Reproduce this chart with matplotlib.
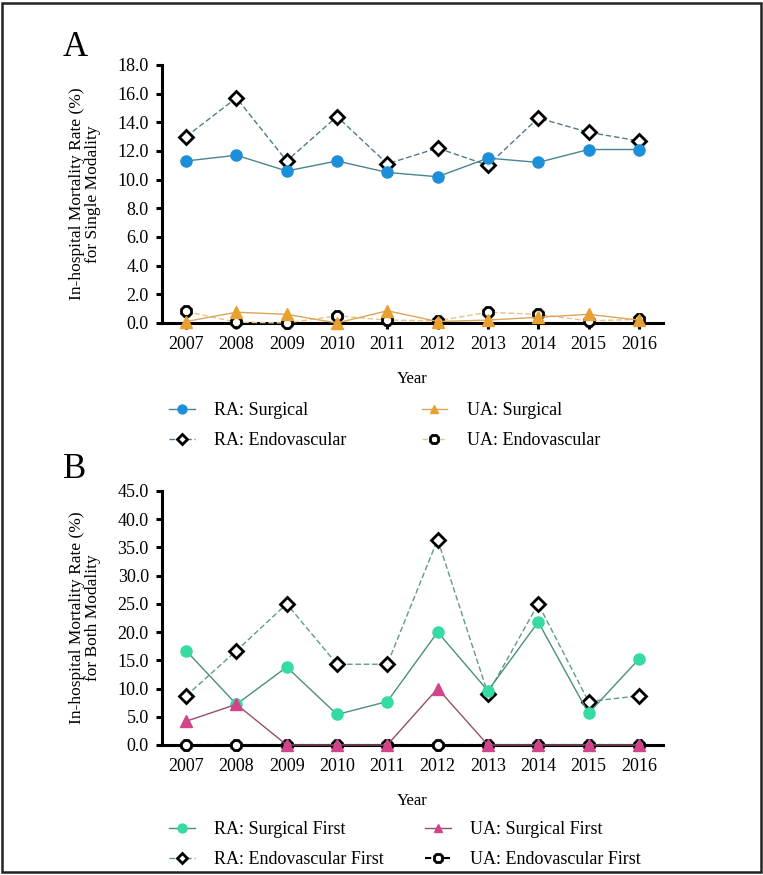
import matplotlib
matplotlib.use("Agg")
import matplotlib.pyplot as plt
from matplotlib.patches import Rectangle

years = [2007, 2008, 2009, 2010, 2011, 2012, 2013, 2014, 2015, 2016]

# Panel A: single modality
ra_surgical = [11.3, 11.7, 10.6, 11.3, 10.5, 10.2, 11.5, 11.2, 12.1, 12.1]
ra_endo = [13.0, 15.7, 11.3, 14.4, 11.1, 12.2, 11.0, 14.3, 13.3, 12.7]
ua_surgical = [0.1, 0.75, 0.6, 0.0, 0.85, 0.1, 0.2, 0.4, 0.6, 0.2]
ua_endo = [0.8, 0.05, 0.0, 0.5, 0.2, 0.15, 0.75, 0.6, 0.15, 0.25]

# Panel B: both modalities
ra_surg_first = [16.7, 7.2, 13.8, 5.4, 7.7, 20.0, 9.6, 21.8, 5.6, 15.2]
ra_endo_first = [8.7, 16.7, 25.0, 14.3, 14.3, 36.4, 9.1, 25.0, 7.7, 8.7]
ua_surg_first = [4.2, 7.2, 0.0, 0.0, 0.0, 10.0, 0.0, 0.0, 0.0, 0.0]
ua_endo_first = [0.0, 0.0, 0.0, 0.0, 0.0, 0.0, 0.0, 0.0, 0.0, 0.0]

plt.rcParams["font.family"] = ["Liberation Serif", "DejaVu Serif"]

fig = plt.figure(figsize=(7.63, 8.75), dpi=100)
fig.patches.append(Rectangle((0.003, 0.004), 0.994, 0.993, transform=fig.transFigure,
                             fill=False, lw=1.8, ec="#222222"))


def style_axes(ax, ymax, ystep, ylabel):
    n = int(round(ymax / ystep)) + 1
    ax.set_xlim(2006.52, 2016.48)
    ax.set_ylim(0, ymax)
    ax.set_xticks(years)
    ax.set_yticks([i * ystep for i in range(n)])
    ax.set_yticklabels([f"{i * ystep:.1f}" for i in range(n)])
    for s in ("top", "right"):
        ax.spines[s].set_visible(False)
    for s in ("left", "bottom"):
        ax.spines[s].set_linewidth(2.2)
    ax.tick_params(axis="both", length=4.5, width=2.2, labelsize=13, pad=5)
    ax.set_xlabel("Year", fontsize=12, labelpad=13)
    ax.set_ylabel(ylabel, fontsize=12.5, labelpad=12, linespacing=1.0)


def add_legend(handles, top_px, colspace):
    fig.legend(handles=handles, ncol=2, frameon=False, fontsize=13,
               loc="upper left", bbox_to_anchor=(153 / 763, 1 - top_px / 875),
               handlelength=1.4, handletextpad=1.1, columnspacing=colspace,
               labelspacing=0.7, markerscale=0.8)


# ---- Panel A
axA = fig.add_axes([0.2123, 0.6309, 0.6566, 0.2949])
h_re, = axA.plot(years, ra_endo, ls=(0, (4, 2)), lw=1, color="#4f7c88", marker="D",
                 ms=7, mfc="white", mec="black", mew=2, clip_on=False, zorder=3,
                 label="RA: Endovascular")
h_ue, = axA.plot(years, ua_endo, ls=(0, (4, 2)), lw=1, color="#e8c488", marker="8",
                 ms=8, mfc="white", mec="black", mew=2, clip_on=False, zorder=3,
                 label="UA: Endovascular")
h_rs, = axA.plot(years, ra_surgical, ls="-", lw=1, color="#4a8394", marker="o",
                 ms=8, mfc="#1d8fd8", mec="#1d8fd8", clip_on=False, zorder=4,
                 label="RA: Surgical")
h_us, = axA.plot(years, ua_surgical, ls="-", lw=1, color="#d9a65a", marker="^",
                 ms=8, mfc="#e8a030", mec="#e8a030", clip_on=False, zorder=4,
                 label="UA: Surgical")
style_axes(axA, 18, 2, "In-hospital Mortality Rate (%)\nfor Single Modality")
fig.text(63 / 763, 1 - 56 / 875, "A", fontsize=25)
add_legend([h_rs, h_re, h_us, h_ue], 386, 4.15)

# ---- Panel B
axB = fig.add_axes([0.2123, 0.1486, 0.6566, 0.2903])
g_re, = axB.plot(years, ra_endo_first, ls=(0, (4, 2)), lw=1, color="#5f9a8c", marker="D",
                 ms=7, mfc="white", mec="black", mew=2, clip_on=False, zorder=3,
                 label="RA: Endovascular First")
g_ue, = axB.plot(years, ua_endo_first, ls=(0, (3, 1.5)), lw=1.5, color="black", marker="8",
                 ms=8, mfc="white", mec="black", mew=2, clip_on=False, zorder=3,
                 label="UA: Endovascular First")
g_rs, = axB.plot(years, ra_surg_first, ls="-", lw=1, color="#4b8f80", marker="o",
                 ms=8, mfc="#35dba0", mec="#35dba0", clip_on=False, zorder=4,
                 label="RA: Surgical First")
g_us, = axB.plot(years, ua_surg_first, ls="-", lw=1, color="#93506e", marker="^",
                 ms=8, mfc="#d2448a", mec="#d2448a", clip_on=False, zorder=4,
                 label="UA: Surgical First")
style_axes(axB, 45, 5, "In-hospital Mortality Rate (%)\nfor Both Modality")
fig.text(63 / 763, 1 - 478 / 875, "B", fontsize=25)
add_legend([g_rs, g_re, g_us, g_ue], 805, 2.28)

fig.savefig("out.png", dpi=100)
